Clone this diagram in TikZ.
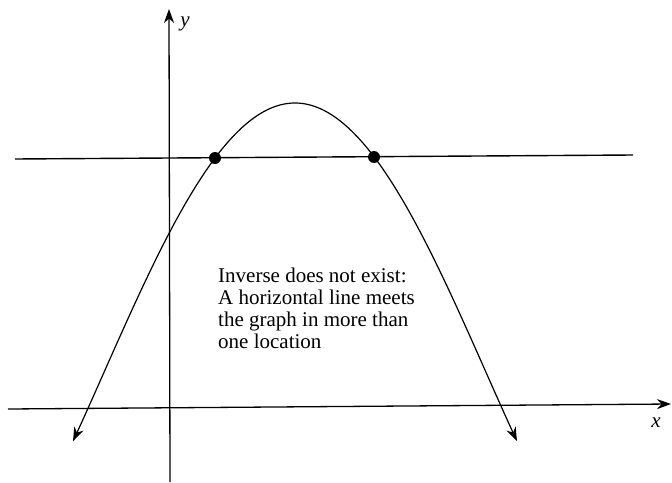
\documentclass[tikz,border=0pt]{standalone}
\usepackage{fontspec}
\setmainfont{Liberation Serif}
\usepackage{tikz}
\usetikzlibrary{arrows.meta,positioning}
\tikzset{
  axis/.style={-{Stealth[length=14pt,width=10pt]},draw=black,line width=1.3pt},
  hline/.style={draw=black,line width=1.4pt},
  graphline/.style={{Stealth[length=14pt,width=10pt]}-{Stealth[length=14pt,width=10pt]},
    draw=black,line width=1.2pt},
  meetpt/.style={circle,fill=black,inner sep=0pt,minimum size=12pt},
  axlabel/.style={font=\fontsize{21}{23}\selectfont\itshape,inner sep=0pt},
  note/.style={font=\fontsize{21}{22}\selectfont,align=left,inner sep=0pt},
}
\begin{document}
\begin{tikzpicture}[x=1pt,y=-1pt]
  \useasboundingbox (0,0) rectangle (672,482);
  % axes
  \coordinate (xl) at (8,409);
  \coordinate (xr) at (671,404);
  \coordinate (yb) at (170,482);
  \coordinate (yt) at (169,9);
  \draw[axis] (xl) -- (xr);
  \draw[axis] (yb) -- (yt);
  \node[axlabel] (ylab) at (185,24) {y};
  \node[axlabel] (xlab) at (656,423) {x};
  % horizontal test line
  \coordinate (hl) at (15,159);
  \coordinate (hr) at (633,155);
  \draw[hline] (hl) -- (hr);
  % the graph (u = x/100 from the top)
  \draw[graphline] plot[domain=-2.22:2.22,samples=80,smooth]
    ({295+100*\x},{103+88.6*\x*\x-4.05*\x*\x*\x*\x});
  \node[meetpt] (p1) at (215,158) {};
  \node[meetpt] (p2) at (374,157) {};
  \node[note,anchor=north west] (msg) at (218,268)
    {Inverse does not exist:\\ A horizontal line meets\\ the graph in more than\\ one location};
\end{tikzpicture}
\end{document}
